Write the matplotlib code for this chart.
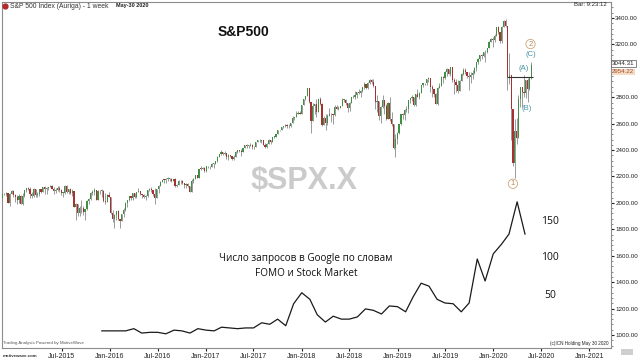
import numpy as np
import pandas as pd
import matplotlib.pyplot as plt
import matplotlib.dates as mdates
from matplotlib.patches import Rectangle
from matplotlib.lines import Line2D

# S&P 500 weekly bars, week of Nov 3 2014 .. week of May 25 2020
first_open = 2018
close_2014 = [2032, 2040, 2064, 2068, 2075, 2002, 2071, 2089]
high_2014 = [2034, 2042, 2071, 2076, 2079, 2077, 2077, 2094]
low_2014 = [2001, 2025, 2040, 2060, 2049, 2002, 1973, 2069]

close_2015 = [2058, 2045, 2019, 2052, 1995, 2055, 2097, 2110, 2105, 2071, 2053, 2108, 2061,
              2067, 2102, 2081, 2118, 2108, 2116, 2123, 2126, 2107, 2093, 2094, 2110, 2101,
              2077, 2077, 2127, 2080, 2104, 2078, 2092, 1971, 1989, 1921, 1961, 1958, 1931,
              1951, 2015, 2033, 2075, 2079, 2099, 2023, 2089, 2090, 2092, 2012, 2006, 2061, 2044]
high_2015 = [2094, 2064, 2057, 2064, 2058, 2072, 2097, 2110, 2119, 2117, 2081, 2114, 2107,
             2083, 2103, 2107, 2120, 2125, 2118, 2123, 2135, 2132, 2121, 2115, 2127, 2129,
             2102, 2083, 2133, 2133, 2105, 2113, 2103, 2092, 2000, 1993, 1975, 2021, 1980,
             1952, 2019, 2039, 2080, 2094, 2116, 2099, 2097, 2094, 2104, 2094, 2077, 2068, 2080]
low_2015 = [2046, 2005, 1988, 2002, 1989, 1981, 2041, 2085, 2098, 2040, 2039, 2044, 2045,
            2045, 2056, 2073, 2080, 2067, 2068, 2096, 2117, 2102, 2071, 2072, 2090, 2086,
            2057, 2044, 2067, 2076, 2064, 2067, 2053, 1970, 1867, 1904, 1903, 1927, 1909,
            1872, 1949, 1991, 2024, 2059, 2058, 2021, 2019, 2066, 2043, 2006, 1993, 2006, 2042]

close_2016 = [1922, 1880, 1907, 1940, 1880, 1865, 1918, 1948, 2000, 2022, 2050, 2036, 2073,
              2048, 2081, 2092, 2065, 2057, 2047, 2052, 2099, 2099, 2096, 2071, 2037, 2103,
              2130, 2162, 2175, 2174, 2183, 2184, 2184, 2169, 2180, 2128, 2139, 2165, 2168,
              2154, 2133, 2141, 2126, 2085, 2164, 2182, 2213, 2192, 2260, 2258, 2264, 2239]
high_2016 = [2039, 1950, 1916, 1941, 1947, 1881, 1918, 1963, 2010, 2025, 2053, 2053, 2075,
             2068, 2084, 2111, 2089, 2068, 2064, 2059, 2100, 2111, 2120, 2096, 2113, 2104,
             2132, 2169, 2176, 2178, 2188, 2194, 2188, 2187, 2184, 2187, 2144, 2176, 2175,
             2170, 2147, 2148, 2148, 2112, 2182, 2189, 2214, 2214, 2260, 2278, 2274, 2271]
low_2016 = [1918, 1858, 1812, 1873, 1873, 1810, 1860, 1891, 1937, 1970, 2017, 2022, 2023,
            2034, 2039, 2080, 2060, 2040, 2039, 2025, 2048, 2087, 2084, 2050, 1992, 2035,
            2075, 2131, 2156, 2148, 2148, 2168, 2169, 2156, 2163, 2120, 2120, 2139, 2145,
            2144, 2114, 2115, 2121, 2084, 2084, 2151, 2179, 2187, 2190, 2248, 2256, 2233]

close_2017 = [2277, 2275, 2271, 2295, 2297, 2316, 2351, 2367, 2383, 2373, 2378, 2344, 2363,
              2356, 2329, 2349, 2384, 2399, 2391, 2382, 2416, 2439, 2432, 2433, 2438, 2423,
              2425, 2459, 2473, 2472, 2477, 2441, 2426, 2443, 2477, 2461, 2500, 2502, 2519,
              2549, 2553, 2575, 2581, 2588, 2582, 2579, 2602, 2642, 2652, 2676, 2683, 2674]
high_2017 = [2283, 2279, 2282, 2301, 2300, 2319, 2352, 2368, 2401, 2386, 2391, 2379, 2370,
             2366, 2353, 2361, 2392, 2399, 2404, 2406, 2416, 2441, 2446, 2441, 2456, 2443,
             2433, 2463, 2478, 2484, 2478, 2475, 2450, 2452, 2481, 2475, 2500, 2508, 2520,
             2552, 2555, 2576, 2582, 2598, 2594, 2594, 2605, 2658, 2652, 2695, 2695, 2694]
low_2017 = [2234, 2264, 2258, 2273, 2267, 2297, 2310, 2352, 2363, 2365, 2365, 2334, 2322,
            2345, 2323, 2328, 2360, 2377, 2385, 2353, 2383, 2415, 2415, 2419, 2428, 2406,
            2407, 2421, 2459, 2463, 2457, 2438, 2417, 2418, 2447, 2446, 2461, 2488, 2496,
            2520, 2542, 2550, 2566, 2571, 2566, 2565, 2577, 2605, 2624, 2649, 2673, 2672]

close_2018 = [2743, 2786, 2810, 2873, 2762, 2620, 2732, 2747, 2691, 2787, 2752, 2588, 2641,
              2604, 2656, 2670, 2670, 2663, 2728, 2713, 2721, 2735, 2779, 2780, 2755, 2718,
              2760, 2801, 2802, 2819, 2840, 2833, 2850, 2875, 2902, 2872, 2905, 2930, 2914,
              2886, 2767, 2768, 2659, 2723, 2781, 2736, 2633, 2760, 2633, 2600, 2417, 2486]
high_2018 = [2744, 2787, 2808, 2873, 2871, 2763, 2754, 2747, 2790, 2787, 2802, 2755, 2660,
             2673, 2675, 2718, 2684, 2676, 2742, 2742, 2736, 2736, 2791, 2790, 2790, 2744,
             2764, 2805, 2816, 2848, 2842, 2863, 2856, 2877, 2916, 2893, 2912, 2941, 2939,
             2939, 2882, 2816, 2765, 2736, 2815, 2775, 2747, 2761, 2801, 2686, 2601, 2521]
low_2018 = [2683, 2743, 2778, 2809, 2756, 2533, 2621, 2675, 2648, 2702, 2741, 2585, 2595,
            2554, 2587, 2660, 2612, 2594, 2660, 2708, 2706, 2722, 2740, 2764, 2744, 2692,
            2699, 2754, 2791, 2784, 2792, 2825, 2802, 2838, 2864, 2864, 2865, 2904, 2904,
            2874, 2710, 2691, 2628, 2604, 2715, 2671, 2631, 2649, 2621, 2584, 2409, 2346]

close_2019 = [2532, 2596, 2671, 2665, 2707, 2708, 2776, 2793, 2804, 2743, 2822, 2801, 2834,
              2893, 2907, 2905, 2940, 2946, 2881, 2860, 2826, 2752, 2873, 2887, 2950, 2942,
              2990, 3014, 2977, 3026, 2932, 2919, 2889, 2847, 2926, 2979, 3007, 2992, 2962,
              2952, 2970, 2986, 3023, 3067, 3093, 3120, 3110, 3141, 3146, 3169, 3221, 3240]
high_2019 = [2539, 2598, 2675, 2682, 2708, 2731, 2776, 2798, 2816, 2804, 2823, 2860, 2837,
             2894, 2911, 2910, 2940, 2954, 2937, 2891, 2860, 2832, 2875, 2911, 2964, 2959,
             2996, 3018, 3016, 3028, 3028, 2943, 2940, 2928, 2928, 2985, 3021, 3022, 2994,
             2993, 2993, 3008, 3028, 3067, 3098, 3122, 3128, 3143, 3154, 3176, 3226, 3248]
low_2019 = [2444, 2519, 2587, 2633, 2631, 2685, 2682, 2760, 2775, 2735, 2734, 2800, 2785,
            2848, 2879, 2893, 2891, 2917, 2836, 2802, 2801, 2751, 2744, 2884, 2886, 2910,
            2939, 2962, 2973, 2964, 2914, 2822, 2842, 2834, 2855, 2939, 2970, 2978, 2943,
            2856, 2907, 2941, 2977, 2996, 3050, 3077, 3090, 3106, 3070, 3136, 3169, 3232]

close_2020 = [3235, 3265, 3330, 3295, 3226, 3328, 3380, 3338, 2954, 2972, 2711, 2305, 2541,
              2489, 2790, 2875, 2837, 2831, 2930, 2864, 2955, 3044.31]
high_2020 = [3259, 3275, 3330, 3338, 3284, 3337, 3385, 3393, 3259, 3137, 2882, 2570, 2637,
             2641, 2818, 2880, 2871, 2965, 2933, 2945, 2956, 3068]
low_2020 = [3181, 3215, 3263, 3281, 3214, 3214, 3335, 3328, 2855, 2901, 2478, 2280, 2191,
            2447, 2500, 2725, 2727, 2800, 2798, 2766, 2853, 2938]

# Google searches "FOMO" + "Stock Market", monthly Dec 2015 .. May 2020
trend_values = [7, 7, 7, 7, 10, 4, 5, 5, 3, 8, 7, 4, 10, 8, 7, 12, 11, 10, 11, 11,
                18, 16, 23, 14, 44, 59, 50, 29, 19, 27, 23, 23, 26, 37, 35, 30, 41, 40,
                33, 53, 72, 68, 50, 45, 44, 33, 45, 105, 75, 112, 125, 139, 183, 139]

tick_labels = ['Jul-2015', 'Jan-2016', 'Jul-2016', 'Jan-2017', 'Jul-2017', 'Jan-2018',
               'Jul-2018', 'Jan-2019', 'Jul-2019', 'Jan-2020', 'Jul-2020', 'Jan-2021']
price_ticks = list(range(1000, 3401, 200))
hidden_price_label = 3000  # covered by the price tags in the original

close = np.array(close_2014 + close_2015 + close_2016 + close_2017 + close_2018 + close_2019 + close_2020, float)
high = np.array(high_2014 + high_2015 + high_2016 + high_2017 + high_2018 + high_2019 + high_2020, float)
low = np.array(low_2014 + low_2015 + low_2016 + low_2017 + low_2018 + low_2019 + low_2020, float)
opn = np.concatenate([[first_open], close[:-1]])
high = np.maximum(high, np.maximum(opn, close))
low = np.minimum(low, np.minimum(opn, close))
weeks = pd.date_range(end='2020-05-25', periods=len(close), freq='W-MON')
x = mdates.date2num(weeks)

months = pd.date_range('2015-12-01', periods=len(trend_values), freq='MS')
tick_dates = pd.to_datetime([pd.Timestamp(f"{l[4:]}-{'07' if l.startswith('Jul') else '01'}-01") for l in tick_labels])

W, H = 640, 360
fx = lambda px: px / W
fy = lambda py: 1 - py / H
px_per_day = 47.9 / 182.6
d0 = mdates.date2num(pd.Timestamp('2016-01-01'))
ymin, ymax = 901.6, 3521

fig = plt.figure(figsize=(6.4, 3.6), dpi=100)
ax = fig.add_axes([fx(2), fy(348), fx(609), 346 / H])
ax2 = ax.twinx()  # google trend overlay, hidden axis
ax.set_xlim(d0 - 108 / px_per_day, d0 + 501 / px_per_day)
ax.set_ylim(ymin, ymax)

up = close >= opn
body_col = np.where(up, '#3f8f45', '#a83030')
ax.vlines(x, low, high, color='#8a8a8a', lw=0.6, zorder=2)
ax.bar(x, np.where(np.abs(close - opn) < 4, 4, close - opn), bottom=opn, width=4.5,
       color=body_col, linewidth=0, zorder=3)

# horizontal reference line at Feb-28 close
ax.hlines(close[weeks.get_loc(pd.Timestamp('2020-02-24'))], mdates.date2num(pd.Timestamp('2020-02-24')),
          mdates.date2num(pd.Timestamp('2020-06-01')), color='#333333', lw=0.8, zorder=4)

for sp in ax.spines.values():
    sp.set_color('#8c8c8c')
    sp.set_linewidth(0.8)
ax.yaxis.tick_right()
ax.set_yticks(price_ticks)
ax.set_yticklabels(['' if v == hidden_price_label else f'{v:.2f}' for v in price_ticks])
ax.set_yticks(range(920, 3520, 40), minor=True)
ax.tick_params(axis='y', which='major', length=2, pad=1, labelsize=4.5, colors='#222222')
ax.tick_params(axis='y', which='minor', length=1.2, color='#777777')
ax.set_xticks(mdates.date2num(tick_dates))
ax.set_xticklabels(tick_labels)
ax.tick_params(axis='x', length=2, pad=1.5, labelsize=5, colors='#222222')
for t in ax.get_xticklabels() + ax.get_yticklabels():
    t.set_family('Liberation Sans')

ax2.set_ylim((336 - 348) / 0.7333, (336 - 2) / 0.7333)
ax2.plot(mdates.date2num(months), trend_values, color='#1a1a1a', lw=0.9)
ax2.set_axis_off()

# wave labels (placed in price units)
def lab(txt, date, price, col, circ=False):
    kw = dict(ha='center', va='center', fontsize=5.5, color=col, family='Liberation Sans')
    if circ:
        kw['bbox'] = dict(boxstyle='circle,pad=0.15', fc='white', ec='#c9a57a', lw=0.6)
    ax2.text(mdates.date2num(pd.Timestamp(date)), (price - ymin) / (ymax - ymin), txt, zorder=6,
             transform=ax2.get_xaxis_transform(), **kw)

lab('1', '2020-03-16', 2145, '#b0895a', True)
lab('2', '2020-05-22', 3203, '#b0895a', True)
lab('(C)', '2020-05-22', 3125, '#4a93a3')
lab('(A)', '2020-04-24', 3014, '#4a93a3')
lab('(B)', '2020-05-08', 2718, '#4a93a3')

# price tags on the axis
ax2.text(1.002, (3056 - ymin) / (ymax - ymin), '3044.31', transform=ax.transAxes, ha='left', va='center',
         fontsize=4.4, family='Liberation Sans', color='#222222',
         bbox=dict(boxstyle='square,pad=0.15', fc='white', ec='#555555', lw=0.5))
ax2.text(1.002, (2992 - ymin) / (ymax - ymin), '2954.22', transform=ax.transAxes, ha='left', va='center',
         fontsize=4.4, family='Liberation Sans', color='#a04a2a',
         bbox=dict(boxstyle='square,pad=0.05', fc='#f4dcc4', ec='none'))

# figure texts
fig.add_artist(Line2D([fx(5)], [fy(6)], marker='o', ms=3.5, color='#b02a2a', transform=fig.transFigure))
fig.text(fx(10), fy(6), 'S&P 500 Index (Auriga) - 1 week', fontsize=4.9, color='#333333',
         family='Liberation Sans', va='center')
fig.text(fx(116), fy(5), 'May-30 2020', fontsize=4.0, color='#222222', weight='bold',
         family='Liberation Sans', va='center')
fig.text(fx(607), fy(5), 'Bar: 9:23:12', fontsize=4.3, color='#222222', family='Liberation Sans',
         va='center', ha='right')
fig.text(fx(243), fy(32), 'S&P500', fontsize=10, weight='bold', family='Liberation Sans',
         ha='center', va='center', color='#111111')
fig.text(fx(304), fy(181), '$SPX.X', fontsize=22, weight='bold', family='Liberation Sans',
         ha='center', va='center', color='#cbcbcb')
fig.text(fx(306), fy(258), 'Число запросов в Google по словам', fontsize=7.2,
         family=['Open Sans', 'DejaVu Sans'], ha='center', va='center', color='#111111')
fig.text(fx(306), fy(273), 'FOMO и Stock Market', fontsize=7.2,
         family=['Open Sans', 'DejaVu Sans'], ha='center', va='center', color='#111111')
for lbl, py in [('150', 222), ('100', 258), ('50', 295)]:
    fig.text(fx(550), fy(py), lbl, fontsize=7.5, family=['Open Sans', 'DejaVu Sans'],
             ha='center', va='center', color='#111111')
fig.text(fx(3), fy(343), 'Trading Analysis Powered by MotiveWave', fontsize=3.2, color='#555555',
         family='Liberation Sans', va='center')
fig.text(fx(3), fy(356), 'motivewave.com', fontsize=3.2, color='#333333', weight='bold',
         family='Liberation Sans', va='center')
fig.text(fx(608), fy(344), '(c)ICN Holding May 30 2020', fontsize=3.3, color='#222222',
         family='Liberation Sans', va='center', ha='right')
fig.patches.append(Rectangle((fx(621), fy(355)), 12 / W, 6 / H, transform=fig.transFigure,
                             fc='#cfcfcf', ec='none'))

fig.savefig('out.png', dpi=100)
